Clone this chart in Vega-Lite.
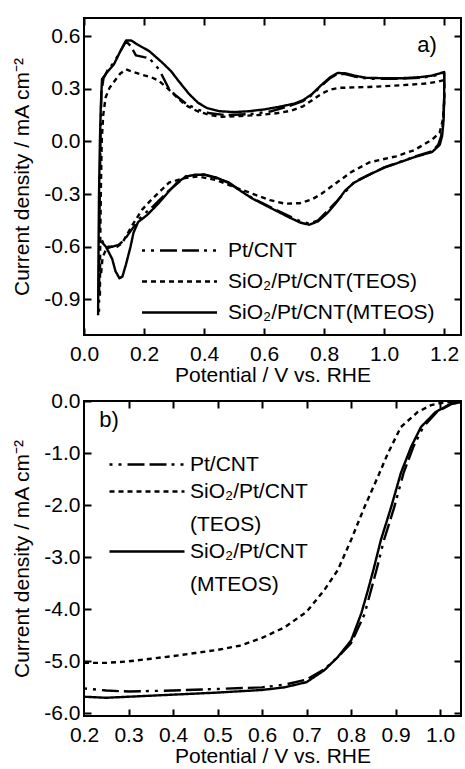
{
  "$schema": "https://vega.github.io/schema/vega-lite/v6.json",
  "padding": {"left": 10, "top": 16, "right": 1, "bottom": 0},
  "spacing": 3,
  "background": "white",
  "config": {
    "view": {"stroke": "black", "strokeWidth": 2},
    "font": "Liberation Sans",
    "axis": {"domain": false, "grid": false, "labelFlush": false, "tickColor": "black", "tickWidth": 2, "labelFont": "Liberation Sans", "labelFontSize": 21, "labelColor": "black", "titleFont": "Liberation Sans", "titleFontSize": 21, "titleFontWeight": "normal", "titleColor": "black"},
    "axisX": {"labelPadding": 8, "titlePadding": 0},
    "axisY": {"labelPadding": 4, "titlePadding": 11},
    "style": {"guide-label": {"lineHeight": 33}}
  },
  "resolve": {"scale": {"strokeDash": "independent"}, "legend": {"strokeDash": "independent"}},
  "datasets": {
    "cv": [
      {"s":"SiO₂/Pt/CNT(MTEOS)","i":1,"E":0.047,"j":-0.99},
      {"s":"SiO₂/Pt/CNT(MTEOS)","i":2,"E":0.048,"j":-0.7},
      {"s":"SiO₂/Pt/CNT(MTEOS)","i":3,"E":0.05,"j":-0.3},
      {"s":"SiO₂/Pt/CNT(MTEOS)","i":4,"E":0.053,"j":0.0},
      {"s":"SiO₂/Pt/CNT(MTEOS)","i":5,"E":0.056,"j":0.2},
      {"s":"SiO₂/Pt/CNT(MTEOS)","i":6,"E":0.06,"j":0.355},
      {"s":"SiO₂/Pt/CNT(MTEOS)","i":7,"E":0.08,"j":0.4},
      {"s":"SiO₂/Pt/CNT(MTEOS)","i":8,"E":0.1,"j":0.44},
      {"s":"SiO₂/Pt/CNT(MTEOS)","i":9,"E":0.12,"j":0.51},
      {"s":"SiO₂/Pt/CNT(MTEOS)","i":10,"E":0.14,"j":0.575},
      {"s":"SiO₂/Pt/CNT(MTEOS)","i":11,"E":0.157,"j":0.575},
      {"s":"SiO₂/Pt/CNT(MTEOS)","i":12,"E":0.18,"j":0.55},
      {"s":"SiO₂/Pt/CNT(MTEOS)","i":13,"E":0.217,"j":0.515},
      {"s":"SiO₂/Pt/CNT(MTEOS)","i":14,"E":0.24,"j":0.48},
      {"s":"SiO₂/Pt/CNT(MTEOS)","i":15,"E":0.26,"j":0.45},
      {"s":"SiO₂/Pt/CNT(MTEOS)","i":16,"E":0.29,"j":0.4},
      {"s":"SiO₂/Pt/CNT(MTEOS)","i":17,"E":0.317,"j":0.34},
      {"s":"SiO₂/Pt/CNT(MTEOS)","i":18,"E":0.35,"j":0.27},
      {"s":"SiO₂/Pt/CNT(MTEOS)","i":19,"E":0.38,"j":0.22},
      {"s":"SiO₂/Pt/CNT(MTEOS)","i":20,"E":0.41,"j":0.19},
      {"s":"SiO₂/Pt/CNT(MTEOS)","i":21,"E":0.45,"j":0.172},
      {"s":"SiO₂/Pt/CNT(MTEOS)","i":22,"E":0.5,"j":0.167},
      {"s":"SiO₂/Pt/CNT(MTEOS)","i":23,"E":0.55,"j":0.172},
      {"s":"SiO₂/Pt/CNT(MTEOS)","i":24,"E":0.6,"j":0.182},
      {"s":"SiO₂/Pt/CNT(MTEOS)","i":25,"E":0.65,"j":0.197},
      {"s":"SiO₂/Pt/CNT(MTEOS)","i":26,"E":0.7,"j":0.215},
      {"s":"SiO₂/Pt/CNT(MTEOS)","i":27,"E":0.73,"j":0.235},
      {"s":"SiO₂/Pt/CNT(MTEOS)","i":28,"E":0.76,"j":0.27},
      {"s":"SiO₂/Pt/CNT(MTEOS)","i":29,"E":0.79,"j":0.32},
      {"s":"SiO₂/Pt/CNT(MTEOS)","i":30,"E":0.82,"j":0.365},
      {"s":"SiO₂/Pt/CNT(MTEOS)","i":31,"E":0.845,"j":0.39},
      {"s":"SiO₂/Pt/CNT(MTEOS)","i":32,"E":0.87,"j":0.388},
      {"s":"SiO₂/Pt/CNT(MTEOS)","i":33,"E":0.9,"j":0.375},
      {"s":"SiO₂/Pt/CNT(MTEOS)","i":34,"E":0.94,"j":0.362},
      {"s":"SiO₂/Pt/CNT(MTEOS)","i":35,"E":1.0,"j":0.36},
      {"s":"SiO₂/Pt/CNT(MTEOS)","i":36,"E":1.06,"j":0.36},
      {"s":"SiO₂/Pt/CNT(MTEOS)","i":37,"E":1.12,"j":0.366},
      {"s":"SiO₂/Pt/CNT(MTEOS)","i":38,"E":1.16,"j":0.375},
      {"s":"SiO₂/Pt/CNT(MTEOS)","i":39,"E":1.2,"j":0.395},
      {"s":"SiO₂/Pt/CNT(MTEOS)","i":40,"E":1.2,"j":0.25},
      {"s":"SiO₂/Pt/CNT(MTEOS)","i":41,"E":1.198,"j":0.12},
      {"s":"SiO₂/Pt/CNT(MTEOS)","i":42,"E":1.193,"j":0.03},
      {"s":"SiO₂/Pt/CNT(MTEOS)","i":43,"E":1.185,"j":-0.02},
      {"s":"SiO₂/Pt/CNT(MTEOS)","i":44,"E":1.16,"j":-0.06},
      {"s":"SiO₂/Pt/CNT(MTEOS)","i":45,"E":1.1,"j":-0.09},
      {"s":"SiO₂/Pt/CNT(MTEOS)","i":46,"E":1.05,"j":-0.12},
      {"s":"SiO₂/Pt/CNT(MTEOS)","i":47,"E":1.0,"j":-0.15},
      {"s":"SiO₂/Pt/CNT(MTEOS)","i":48,"E":0.95,"j":-0.19},
      {"s":"SiO₂/Pt/CNT(MTEOS)","i":49,"E":0.9,"j":-0.235},
      {"s":"SiO₂/Pt/CNT(MTEOS)","i":50,"E":0.87,"j":-0.28},
      {"s":"SiO₂/Pt/CNT(MTEOS)","i":51,"E":0.84,"j":-0.35},
      {"s":"SiO₂/Pt/CNT(MTEOS)","i":52,"E":0.81,"j":-0.41},
      {"s":"SiO₂/Pt/CNT(MTEOS)","i":53,"E":0.78,"j":-0.455},
      {"s":"SiO₂/Pt/CNT(MTEOS)","i":54,"E":0.75,"j":-0.475},
      {"s":"SiO₂/Pt/CNT(MTEOS)","i":55,"E":0.72,"j":-0.462},
      {"s":"SiO₂/Pt/CNT(MTEOS)","i":56,"E":0.68,"j":-0.43},
      {"s":"SiO₂/Pt/CNT(MTEOS)","i":57,"E":0.64,"j":-0.395},
      {"s":"SiO₂/Pt/CNT(MTEOS)","i":58,"E":0.6,"j":-0.36},
      {"s":"SiO₂/Pt/CNT(MTEOS)","i":59,"E":0.56,"j":-0.325},
      {"s":"SiO₂/Pt/CNT(MTEOS)","i":60,"E":0.52,"j":-0.28},
      {"s":"SiO₂/Pt/CNT(MTEOS)","i":61,"E":0.48,"j":-0.235},
      {"s":"SiO₂/Pt/CNT(MTEOS)","i":62,"E":0.44,"j":-0.205},
      {"s":"SiO₂/Pt/CNT(MTEOS)","i":63,"E":0.4,"j":-0.19},
      {"s":"SiO₂/Pt/CNT(MTEOS)","i":64,"E":0.37,"j":-0.19},
      {"s":"SiO₂/Pt/CNT(MTEOS)","i":65,"E":0.34,"j":-0.2},
      {"s":"SiO₂/Pt/CNT(MTEOS)","i":66,"E":0.31,"j":-0.235},
      {"s":"SiO₂/Pt/CNT(MTEOS)","i":67,"E":0.28,"j":-0.29},
      {"s":"SiO₂/Pt/CNT(MTEOS)","i":68,"E":0.25,"j":-0.35},
      {"s":"SiO₂/Pt/CNT(MTEOS)","i":69,"E":0.21,"j":-0.42},
      {"s":"SiO₂/Pt/CNT(MTEOS)","i":70,"E":0.18,"j":-0.46},
      {"s":"SiO₂/Pt/CNT(MTEOS)","i":71,"E":0.165,"j":-0.52},
      {"s":"SiO₂/Pt/CNT(MTEOS)","i":72,"E":0.155,"j":-0.6},
      {"s":"SiO₂/Pt/CNT(MTEOS)","i":73,"E":0.14,"j":-0.7},
      {"s":"SiO₂/Pt/CNT(MTEOS)","i":74,"E":0.128,"j":-0.77},
      {"s":"SiO₂/Pt/CNT(MTEOS)","i":75,"E":0.118,"j":-0.78},
      {"s":"SiO₂/Pt/CNT(MTEOS)","i":76,"E":0.105,"j":-0.74},
      {"s":"SiO₂/Pt/CNT(MTEOS)","i":77,"E":0.094,"j":-0.67},
      {"s":"SiO₂/Pt/CNT(MTEOS)","i":78,"E":0.073,"j":-0.6},
      {"s":"SiO₂/Pt/CNT(MTEOS)","i":79,"E":0.06,"j":-0.575},
      {"s":"SiO₂/Pt/CNT(MTEOS)","i":80,"E":0.05,"j":-0.57},
      {"s":"SiO₂/Pt/CNT(TEOS)","i":1,"E":0.053,"j":-0.88},
      {"s":"SiO₂/Pt/CNT(TEOS)","i":2,"E":0.054,"j":-0.6},
      {"s":"SiO₂/Pt/CNT(TEOS)","i":3,"E":0.056,"j":-0.3},
      {"s":"SiO₂/Pt/CNT(TEOS)","i":4,"E":0.059,"j":0.0},
      {"s":"SiO₂/Pt/CNT(TEOS)","i":5,"E":0.064,"j":0.15},
      {"s":"SiO₂/Pt/CNT(TEOS)","i":6,"E":0.072,"j":0.25},
      {"s":"SiO₂/Pt/CNT(TEOS)","i":7,"E":0.085,"j":0.305},
      {"s":"SiO₂/Pt/CNT(TEOS)","i":8,"E":0.1,"j":0.34},
      {"s":"SiO₂/Pt/CNT(TEOS)","i":9,"E":0.12,"j":0.385},
      {"s":"SiO₂/Pt/CNT(TEOS)","i":10,"E":0.14,"j":0.41},
      {"s":"SiO₂/Pt/CNT(TEOS)","i":11,"E":0.165,"j":0.395},
      {"s":"SiO₂/Pt/CNT(TEOS)","i":12,"E":0.193,"j":0.38},
      {"s":"SiO₂/Pt/CNT(TEOS)","i":13,"E":0.225,"j":0.365},
      {"s":"SiO₂/Pt/CNT(TEOS)","i":14,"E":0.25,"j":0.345},
      {"s":"SiO₂/Pt/CNT(TEOS)","i":15,"E":0.28,"j":0.3},
      {"s":"SiO₂/Pt/CNT(TEOS)","i":16,"E":0.31,"j":0.25},
      {"s":"SiO₂/Pt/CNT(TEOS)","i":17,"E":0.34,"j":0.205},
      {"s":"SiO₂/Pt/CNT(TEOS)","i":18,"E":0.38,"j":0.17},
      {"s":"SiO₂/Pt/CNT(TEOS)","i":19,"E":0.42,"j":0.15},
      {"s":"SiO₂/Pt/CNT(TEOS)","i":20,"E":0.46,"j":0.14},
      {"s":"SiO₂/Pt/CNT(TEOS)","i":21,"E":0.52,"j":0.145},
      {"s":"SiO₂/Pt/CNT(TEOS)","i":22,"E":0.58,"j":0.15},
      {"s":"SiO₂/Pt/CNT(TEOS)","i":23,"E":0.64,"j":0.16},
      {"s":"SiO₂/Pt/CNT(TEOS)","i":24,"E":0.69,"j":0.175},
      {"s":"SiO₂/Pt/CNT(TEOS)","i":25,"E":0.73,"j":0.2},
      {"s":"SiO₂/Pt/CNT(TEOS)","i":26,"E":0.76,"j":0.235},
      {"s":"SiO₂/Pt/CNT(TEOS)","i":27,"E":0.79,"j":0.27},
      {"s":"SiO₂/Pt/CNT(TEOS)","i":28,"E":0.82,"j":0.295},
      {"s":"SiO₂/Pt/CNT(TEOS)","i":29,"E":0.85,"j":0.305},
      {"s":"SiO₂/Pt/CNT(TEOS)","i":30,"E":0.95,"j":0.31},
      {"s":"SiO₂/Pt/CNT(TEOS)","i":31,"E":1.06,"j":0.32},
      {"s":"SiO₂/Pt/CNT(TEOS)","i":32,"E":1.14,"j":0.33},
      {"s":"SiO₂/Pt/CNT(TEOS)","i":33,"E":1.18,"j":0.34},
      {"s":"SiO₂/Pt/CNT(TEOS)","i":34,"E":1.2,"j":0.35},
      {"s":"SiO₂/Pt/CNT(TEOS)","i":35,"E":1.2,"j":0.22},
      {"s":"SiO₂/Pt/CNT(TEOS)","i":36,"E":1.195,"j":0.12},
      {"s":"SiO₂/Pt/CNT(TEOS)","i":37,"E":1.185,"j":0.05},
      {"s":"SiO₂/Pt/CNT(TEOS)","i":38,"E":1.16,"j":0.01},
      {"s":"SiO₂/Pt/CNT(TEOS)","i":39,"E":1.1,"j":-0.05},
      {"s":"SiO₂/Pt/CNT(TEOS)","i":40,"E":1.04,"j":-0.085},
      {"s":"SiO₂/Pt/CNT(TEOS)","i":41,"E":0.95,"j":-0.12},
      {"s":"SiO₂/Pt/CNT(TEOS)","i":42,"E":0.89,"j":-0.175},
      {"s":"SiO₂/Pt/CNT(TEOS)","i":43,"E":0.83,"j":-0.25},
      {"s":"SiO₂/Pt/CNT(TEOS)","i":44,"E":0.79,"j":-0.3},
      {"s":"SiO₂/Pt/CNT(TEOS)","i":45,"E":0.76,"j":-0.33},
      {"s":"SiO₂/Pt/CNT(TEOS)","i":46,"E":0.72,"j":-0.352},
      {"s":"SiO₂/Pt/CNT(TEOS)","i":47,"E":0.67,"j":-0.355},
      {"s":"SiO₂/Pt/CNT(TEOS)","i":48,"E":0.62,"j":-0.335},
      {"s":"SiO₂/Pt/CNT(TEOS)","i":49,"E":0.58,"j":-0.31},
      {"s":"SiO₂/Pt/CNT(TEOS)","i":50,"E":0.5,"j":-0.26},
      {"s":"SiO₂/Pt/CNT(TEOS)","i":51,"E":0.44,"j":-0.22},
      {"s":"SiO₂/Pt/CNT(TEOS)","i":52,"E":0.38,"j":-0.2},
      {"s":"SiO₂/Pt/CNT(TEOS)","i":53,"E":0.33,"j":-0.21},
      {"s":"SiO₂/Pt/CNT(TEOS)","i":54,"E":0.283,"j":-0.235},
      {"s":"SiO₂/Pt/CNT(TEOS)","i":55,"E":0.25,"j":-0.29},
      {"s":"SiO₂/Pt/CNT(TEOS)","i":56,"E":0.22,"j":-0.34},
      {"s":"SiO₂/Pt/CNT(TEOS)","i":57,"E":0.193,"j":-0.39},
      {"s":"SiO₂/Pt/CNT(TEOS)","i":58,"E":0.16,"j":-0.48},
      {"s":"SiO₂/Pt/CNT(TEOS)","i":59,"E":0.127,"j":-0.58},
      {"s":"SiO₂/Pt/CNT(TEOS)","i":60,"E":0.11,"j":-0.6},
      {"s":"SiO₂/Pt/CNT(TEOS)","i":61,"E":0.093,"j":-0.6},
      {"s":"SiO₂/Pt/CNT(TEOS)","i":62,"E":0.075,"j":-0.61},
      {"s":"SiO₂/Pt/CNT(TEOS)","i":63,"E":0.062,"j":-0.66},
      {"s":"SiO₂/Pt/CNT(TEOS)","i":64,"E":0.057,"j":-0.75},
      {"s":"Pt/CNT","i":1,"E":0.05,"j":-0.97},
      {"s":"Pt/CNT","i":2,"E":0.051,"j":-0.6},
      {"s":"Pt/CNT","i":3,"E":0.053,"j":-0.2},
      {"s":"Pt/CNT","i":4,"E":0.056,"j":0.1},
      {"s":"Pt/CNT","i":5,"E":0.058,"j":0.28},
      {"s":"Pt/CNT","i":6,"E":0.065,"j":0.36},
      {"s":"Pt/CNT","i":7,"E":0.08,"j":0.41},
      {"s":"Pt/CNT","i":8,"E":0.1,"j":0.45},
      {"s":"Pt/CNT","i":9,"E":0.12,"j":0.51},
      {"s":"Pt/CNT","i":10,"E":0.14,"j":0.57},
      {"s":"Pt/CNT","i":11,"E":0.155,"j":0.545},
      {"s":"Pt/CNT","i":12,"E":0.173,"j":0.49},
      {"s":"Pt/CNT","i":13,"E":0.2,"j":0.48},
      {"s":"Pt/CNT","i":14,"E":0.217,"j":0.475},
      {"s":"Pt/CNT","i":15,"E":0.235,"j":0.44},
      {"s":"Pt/CNT","i":16,"E":0.25,"j":0.41},
      {"s":"Pt/CNT","i":17,"E":0.283,"j":0.3},
      {"s":"Pt/CNT","i":18,"E":0.307,"j":0.26},
      {"s":"Pt/CNT","i":19,"E":0.34,"j":0.215},
      {"s":"Pt/CNT","i":20,"E":0.38,"j":0.18},
      {"s":"Pt/CNT","i":21,"E":0.42,"j":0.16},
      {"s":"Pt/CNT","i":22,"E":0.47,"j":0.15},
      {"s":"Pt/CNT","i":23,"E":0.55,"j":0.155},
      {"s":"Pt/CNT","i":24,"E":0.62,"j":0.17},
      {"s":"Pt/CNT","i":25,"E":0.68,"j":0.2},
      {"s":"Pt/CNT","i":26,"E":0.73,"j":0.23},
      {"s":"Pt/CNT","i":27,"E":0.76,"j":0.265},
      {"s":"Pt/CNT","i":28,"E":0.79,"j":0.315},
      {"s":"Pt/CNT","i":29,"E":0.82,"j":0.36},
      {"s":"Pt/CNT","i":30,"E":0.845,"j":0.385},
      {"s":"Pt/CNT","i":31,"E":0.87,"j":0.383},
      {"s":"Pt/CNT","i":32,"E":0.9,"j":0.37},
      {"s":"Pt/CNT","i":33,"E":0.95,"j":0.357},
      {"s":"Pt/CNT","i":34,"E":1.05,"j":0.357},
      {"s":"Pt/CNT","i":35,"E":1.12,"j":0.362},
      {"s":"Pt/CNT","i":36,"E":1.16,"j":0.372},
      {"s":"Pt/CNT","i":37,"E":1.2,"j":0.39},
      {"s":"Pt/CNT","i":38,"E":1.2,"j":0.25},
      {"s":"Pt/CNT","i":39,"E":1.197,"j":0.12},
      {"s":"Pt/CNT","i":40,"E":1.19,"j":0.03},
      {"s":"Pt/CNT","i":41,"E":1.18,"j":-0.02},
      {"s":"Pt/CNT","i":42,"E":1.16,"j":-0.055},
      {"s":"Pt/CNT","i":43,"E":1.1,"j":-0.088},
      {"s":"Pt/CNT","i":44,"E":1.0,"j":-0.148},
      {"s":"Pt/CNT","i":45,"E":0.9,"j":-0.232},
      {"s":"Pt/CNT","i":46,"E":0.84,"j":-0.345},
      {"s":"Pt/CNT","i":47,"E":0.78,"j":-0.45},
      {"s":"Pt/CNT","i":48,"E":0.75,"j":-0.468},
      {"s":"Pt/CNT","i":49,"E":0.72,"j":-0.455},
      {"s":"Pt/CNT","i":50,"E":0.64,"j":-0.39},
      {"s":"Pt/CNT","i":51,"E":0.56,"j":-0.322},
      {"s":"Pt/CNT","i":52,"E":0.48,"j":-0.232},
      {"s":"Pt/CNT","i":53,"E":0.4,"j":-0.188},
      {"s":"Pt/CNT","i":54,"E":0.34,"j":-0.198},
      {"s":"Pt/CNT","i":55,"E":0.28,"j":-0.285},
      {"s":"Pt/CNT","i":56,"E":0.23,"j":-0.37},
      {"s":"Pt/CNT","i":57,"E":0.19,"j":-0.43},
      {"s":"Pt/CNT","i":58,"E":0.16,"j":-0.5},
      {"s":"Pt/CNT","i":59,"E":0.135,"j":-0.56},
      {"s":"Pt/CNT","i":60,"E":0.115,"j":-0.59},
      {"s":"Pt/CNT","i":61,"E":0.095,"j":-0.6},
      {"s":"Pt/CNT","i":62,"E":0.078,"j":-0.6},
      {"s":"Pt/CNT","i":63,"E":0.065,"j":-0.58},
      {"s":"Pt/CNT","i":64,"E":0.058,"j":-0.56}
    ],
    "lsv": [
      {"s":"SiO₂/Pt/CNT(TEOS)","i":1,"E":0.2,"j":-5.03},
      {"s":"SiO₂/Pt/CNT(TEOS)","i":2,"E":0.25,"j":-5.03},
      {"s":"SiO₂/Pt/CNT(TEOS)","i":3,"E":0.3,"j":-5.0},
      {"s":"SiO₂/Pt/CNT(TEOS)","i":4,"E":0.35,"j":-4.95},
      {"s":"SiO₂/Pt/CNT(TEOS)","i":5,"E":0.4,"j":-4.9},
      {"s":"SiO₂/Pt/CNT(TEOS)","i":6,"E":0.45,"j":-4.84},
      {"s":"SiO₂/Pt/CNT(TEOS)","i":7,"E":0.5,"j":-4.78},
      {"s":"SiO₂/Pt/CNT(TEOS)","i":8,"E":0.55,"j":-4.7},
      {"s":"SiO₂/Pt/CNT(TEOS)","i":9,"E":0.6,"j":-4.55},
      {"s":"SiO₂/Pt/CNT(TEOS)","i":10,"E":0.65,"j":-4.35},
      {"s":"SiO₂/Pt/CNT(TEOS)","i":11,"E":0.7,"j":-4.05},
      {"s":"SiO₂/Pt/CNT(TEOS)","i":12,"E":0.74,"j":-3.63},
      {"s":"SiO₂/Pt/CNT(TEOS)","i":13,"E":0.77,"j":-3.25},
      {"s":"SiO₂/Pt/CNT(TEOS)","i":14,"E":0.8,"j":-2.67},
      {"s":"SiO₂/Pt/CNT(TEOS)","i":15,"E":0.83,"j":-2.04},
      {"s":"SiO₂/Pt/CNT(TEOS)","i":16,"E":0.86,"j":-1.46},
      {"s":"SiO₂/Pt/CNT(TEOS)","i":17,"E":0.883,"j":-1.0},
      {"s":"SiO₂/Pt/CNT(TEOS)","i":18,"E":0.912,"j":-0.5},
      {"s":"SiO₂/Pt/CNT(TEOS)","i":19,"E":0.95,"j":-0.21},
      {"s":"SiO₂/Pt/CNT(TEOS)","i":20,"E":0.98,"j":-0.08},
      {"s":"SiO₂/Pt/CNT(TEOS)","i":21,"E":1.0,"j":-0.04},
      {"s":"SiO₂/Pt/CNT(TEOS)","i":22,"E":1.025,"j":-0.02},
      {"s":"SiO₂/Pt/CNT(TEOS)","i":23,"E":1.05,"j":-0.01},
      {"s":"SiO₂/Pt/CNT(MTEOS)","i":1,"E":0.2,"j":-5.68},
      {"s":"SiO₂/Pt/CNT(MTEOS)","i":2,"E":0.25,"j":-5.7},
      {"s":"SiO₂/Pt/CNT(MTEOS)","i":3,"E":0.3,"j":-5.68},
      {"s":"SiO₂/Pt/CNT(MTEOS)","i":4,"E":0.4,"j":-5.64},
      {"s":"SiO₂/Pt/CNT(MTEOS)","i":5,"E":0.5,"j":-5.6},
      {"s":"SiO₂/Pt/CNT(MTEOS)","i":6,"E":0.6,"j":-5.55},
      {"s":"SiO₂/Pt/CNT(MTEOS)","i":7,"E":0.65,"j":-5.5},
      {"s":"SiO₂/Pt/CNT(MTEOS)","i":8,"E":0.7,"j":-5.4},
      {"s":"SiO₂/Pt/CNT(MTEOS)","i":9,"E":0.74,"j":-5.17},
      {"s":"SiO₂/Pt/CNT(MTEOS)","i":10,"E":0.77,"j":-4.92},
      {"s":"SiO₂/Pt/CNT(MTEOS)","i":11,"E":0.8,"j":-4.6},
      {"s":"SiO₂/Pt/CNT(MTEOS)","i":12,"E":0.823,"j":-4.08},
      {"s":"SiO₂/Pt/CNT(MTEOS)","i":13,"E":0.838,"j":-3.63},
      {"s":"SiO₂/Pt/CNT(MTEOS)","i":14,"E":0.85,"j":-3.25},
      {"s":"SiO₂/Pt/CNT(MTEOS)","i":15,"E":0.867,"j":-2.67},
      {"s":"SiO₂/Pt/CNT(MTEOS)","i":16,"E":0.89,"j":-2.04},
      {"s":"SiO₂/Pt/CNT(MTEOS)","i":17,"E":0.912,"j":-1.38},
      {"s":"SiO₂/Pt/CNT(MTEOS)","i":18,"E":0.935,"j":-0.88},
      {"s":"SiO₂/Pt/CNT(MTEOS)","i":19,"E":0.957,"j":-0.5},
      {"s":"SiO₂/Pt/CNT(MTEOS)","i":20,"E":0.99,"j":-0.21},
      {"s":"SiO₂/Pt/CNT(MTEOS)","i":21,"E":1.025,"j":-0.05},
      {"s":"SiO₂/Pt/CNT(MTEOS)","i":22,"E":1.05,"j":-0.02},
      {"s":"Pt/CNT","i":1,"E":0.2,"j":-5.52},
      {"s":"Pt/CNT","i":2,"E":0.25,"j":-5.56},
      {"s":"Pt/CNT","i":3,"E":0.3,"j":-5.58},
      {"s":"Pt/CNT","i":4,"E":0.4,"j":-5.56},
      {"s":"Pt/CNT","i":5,"E":0.5,"j":-5.53},
      {"s":"Pt/CNT","i":6,"E":0.6,"j":-5.5},
      {"s":"Pt/CNT","i":7,"E":0.65,"j":-5.45},
      {"s":"Pt/CNT","i":8,"E":0.7,"j":-5.35},
      {"s":"Pt/CNT","i":9,"E":0.74,"j":-5.15},
      {"s":"Pt/CNT","i":10,"E":0.77,"j":-4.92},
      {"s":"Pt/CNT","i":11,"E":0.8,"j":-4.65},
      {"s":"Pt/CNT","i":12,"E":0.83,"j":-4.1},
      {"s":"Pt/CNT","i":13,"E":0.845,"j":-3.63},
      {"s":"Pt/CNT","i":14,"E":0.857,"j":-3.25},
      {"s":"Pt/CNT","i":15,"E":0.874,"j":-2.67},
      {"s":"Pt/CNT","i":16,"E":0.897,"j":-2.04},
      {"s":"Pt/CNT","i":17,"E":0.918,"j":-1.38},
      {"s":"Pt/CNT","i":18,"E":0.94,"j":-0.88},
      {"s":"Pt/CNT","i":19,"E":0.962,"j":-0.5},
      {"s":"Pt/CNT","i":20,"E":0.993,"j":-0.21},
      {"s":"Pt/CNT","i":21,"E":1.025,"j":-0.06},
      {"s":"Pt/CNT","i":22,"E":1.05,"j":-0.02}
    ]
  },
  "vconcat": [
    {
      "width": 377,
      "height": 317,
      "layer": [
        {
          "data": {"name": "cv"},
          "mark": {"type": "line", "color": "black", "strokeWidth": 2.4, "clip": true, "strokeJoin": "round"},
          "encoding": {
            "x": {"field": "E", "type": "quantitative", "scale": {"domain": [0, 1.256], "nice": false, "zero": false},
                  "axis": {"orient": "bottom", "ticks": false, "tickSize": 0, "offset": 0, "values": [0, 0.2, 0.4, 0.6, 0.8, 1.0, 1.2], "format": ".1f", "title": "Potential / V vs. RHE"}},
            "y": {"field": "j", "type": "quantitative", "scale": {"domain": [-1.103, 0.703], "nice": false, "zero": false},
                  "axis": {"orient": "left", "ticks": false, "tickSize": 0, "offset": 0, "values": [-0.9, -0.6, -0.3, 0, 0.3, 0.6], "format": ".1f", "labelExpr": "replace(datum.label, '−', '-')", "title": "Current density / mA cm⁻²"}},
            "order": {"field": "i", "type": "quantitative"},
            "strokeDash": {"field": "s", "type": "nominal",
              "scale": {"domain": ["Pt/CNT", "SiO₂/Pt/CNT(TEOS)", "SiO₂/Pt/CNT(MTEOS)"], "range": [[3, 6, 3, 6, 17, 5, 17, 5], [5, 4], [1, 0]]},
              "legend": {"orient": "none", "legendX": 55, "legendY": 222, "title": null, "symbolType": "M-1,0H9", "symbolSize": 225, "symbolStrokeWidth": 2.4, "symbolStrokeColor": "black", "symbolFillColor": "transparent", "labelFont": "Liberation Sans", "labelFontSize": 21, "labelColor": "black", "labelOffset": 68, "rowPadding": 9, "labelLimit": 400}}
          }
        },
        {
          "data": {"name": "cv"},
          "mark": {"type": "line", "opacity": 0},
          "encoding": {
            "x": {"field": "E", "type": "quantitative", "axis": {"orient": "top", "ticks": true, "tickSize": 7, "offset": -7, "values": [0, 0.2, 0.4, 0.6, 0.8, 1.0, 1.2], "labels": false, "title": null}},
            "y": {"field": "j", "type": "quantitative", "axis": {"orient": "right", "ticks": true, "tickSize": 7, "offset": -7, "values": [-0.9, -0.6, -0.3, 0, 0.3, 0.6], "labels": false, "title": null}},
            "detail": {"field": "s"},
            "order": {"field": "i", "type": "quantitative"}
          }
        },
        {
          "data": {"name": "cv"},
          "mark": {"type": "line", "opacity": 0},
          "encoding": {
            "x": {"field": "E", "type": "quantitative", "axis": {"orient": "top", "ticks": true, "tickSize": 7, "offset": -317, "values": [0, 0.2, 0.4, 0.6, 0.8, 1.0, 1.2], "labels": false, "title": null}},
            "y": {"field": "j", "type": "quantitative", "axis": {"orient": "right", "ticks": true, "tickSize": 7, "offset": -377, "values": [-0.9, -0.6, -0.3, 0, 0.3, 0.6], "labels": false, "title": null}},
            "detail": {"field": "s"},
            "order": {"field": "i", "type": "quantitative"}
          }
        },
        {
          "data": {"values": [{"t": "a)"}]},
          "mark": {"type": "text", "font": "Liberation Sans", "fontSize": 22, "color": "black", "align": "center", "baseline": "middle"},
          "encoding": {
            "x": {"datum": 1.143, "type": "quantitative", "axis": null},
            "y": {"datum": 0.55, "type": "quantitative", "axis": null},
            "text": {"field": "t"}
          }
        }
      ],
      "resolve": {"axis": {"x": "independent", "y": "independent"}}
    },
    {
      "width": 377,
      "height": 315,
      "layer": [
        {
          "data": {"name": "lsv"},
          "mark": {"type": "line", "color": "black", "strokeWidth": 2.4, "clip": true, "strokeJoin": "round"},
          "encoding": {
            "x": {"field": "E", "type": "quantitative", "scale": {"domain": [0.2, 1.047], "nice": false, "zero": false},
                  "axis": {"orient": "bottom", "ticks": false, "tickSize": 0, "offset": 0, "values": [0.2, 0.3, 0.4, 0.5, 0.6, 0.7, 0.8, 0.9, 1.0], "format": ".1f", "title": "Potential / V vs. RHE"}},
            "y": {"field": "j", "type": "quantitative", "scale": {"domain": [-6.05, 0], "nice": false, "zero": false},
                  "axis": {"orient": "left", "ticks": false, "tickSize": 0, "offset": 0, "values": [-6, -5, -4, -3, -2, -1, 0], "format": ".1f", "labelExpr": "replace(datum.label, '−', '-')", "title": "Current density / mA cm⁻²"}},
            "order": {"field": "i", "type": "quantitative"},
            "strokeDash": {"field": "s", "type": "nominal",
              "scale": {"domain": ["Pt/CNT", "SiO₂/Pt/CNT(TEOS)", "SiO₂/Pt/CNT(MTEOS)"], "range": [[3, 6, 3, 6, 17, 5, 17, 5], [5, 4], [1, 0]]},
              "legend": {"orient": "none", "legendX": 22.5, "legendY": 53, "title": null, "symbolType": "M-1,0H9", "symbolSize": 225, "symbolStrokeWidth": 2.4, "symbolStrokeColor": "black", "symbolFillColor": "transparent", "labelFont": "Liberation Sans", "labelFontSize": 21, "labelColor": "black", "labelOffset": 62.5, "rowPadding": 5, "labelLimit": 400,
                "labelExpr": "datum.label == 'Pt/CNT' ? 'Pt/CNT' : [split(datum.label, '(')[0], '(' + split(datum.label, '(')[1]]"}}
          }
        },
        {
          "data": {"name": "lsv"},
          "mark": {"type": "line", "opacity": 0},
          "encoding": {
            "x": {"field": "E", "type": "quantitative", "axis": {"orient": "top", "ticks": true, "tickSize": 7, "offset": -7, "values": [0.3, 0.4, 0.5, 0.6, 0.7, 0.8, 0.9, 1.0], "labels": false, "title": null}},
            "y": {"field": "j", "type": "quantitative", "axis": {"orient": "right", "ticks": true, "tickSize": 7, "offset": -7, "values": [-6, -5, -4, -3, -2, -1, 0], "labels": false, "title": null}},
            "detail": {"field": "s"},
            "order": {"field": "i", "type": "quantitative"}
          }
        },
        {
          "data": {"name": "lsv"},
          "mark": {"type": "line", "opacity": 0},
          "encoding": {
            "x": {"field": "E", "type": "quantitative", "axis": {"orient": "top", "ticks": true, "tickSize": 7, "offset": -315, "values": [0.3, 0.4, 0.5, 0.6, 0.7, 0.8, 0.9, 1.0], "labels": false, "title": null}},
            "y": {"field": "j", "type": "quantitative", "axis": {"orient": "right", "ticks": true, "tickSize": 7, "offset": -377, "values": [-6, -5, -4, -3, -2, -1, 0], "labels": false, "title": null}},
            "detail": {"field": "s"},
            "order": {"field": "i", "type": "quantitative"}
          }
        },
        {
          "data": {"values": [{"t": "b)"}]},
          "mark": {"type": "text", "font": "Liberation Sans", "fontSize": 22, "color": "black", "align": "center", "baseline": "middle"},
          "encoding": {
            "x": {"datum": 0.256, "type": "quantitative", "axis": null},
            "y": {"datum": -0.365, "type": "quantitative", "axis": null},
            "text": {"field": "t"}
          }
        }
      ],
      "resolve": {"axis": {"x": "independent", "y": "independent"}}
    }
  ]
}
